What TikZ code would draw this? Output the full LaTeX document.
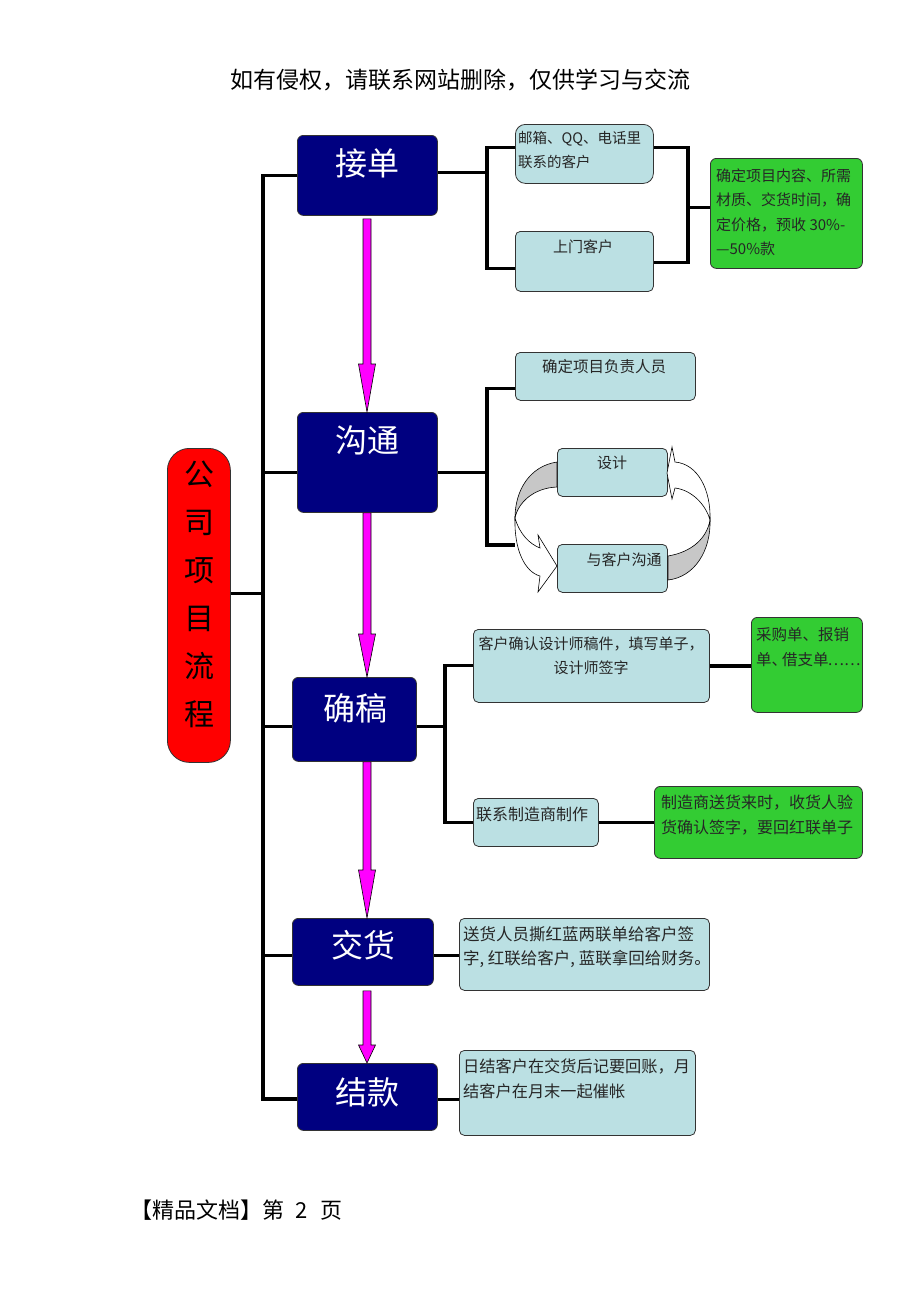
\documentclass[tikz,border=0pt]{standalone}
\usepackage{fontspec}
\setmainfont{Noto Sans CJK SC}
\usetikzlibrary{calc}
\definecolor{navyc}{HTML}{000080}
\definecolor{lblue}{HTML}{BBE0E3}
\definecolor{gboxc}{HTML}{33CC33}
\definecolor{magc}{HTML}{FF00FF}
\definecolor{redc}{HTML}{FF0000}
\newcommand\fs[1]{\fontsize{#1}{#1}\selectfont}
\newcommand\magarrow[4]{%
\filldraw[arrowfill] ($(#1.south -| ax)+(-4,#3)$) -- ($(#1.south -| ax)+(4,#3)$) -- ($(#2.north -| ax)+(4,-#4)$) -- ($(#2.north -| ax)+(8.5,-#4)$) -- (#2.north -| ax) -- ($(#2.north -| ax)+(-8.5,-#4)$) -- ($(#2.north -| ax)+(-4,-#4)$) -- cycle;}
\begin{document}
\begin{tikzpicture}[x=1pt,y=-1pt,
  conn/.style={line width=3.2pt, draw=black},
  bluebox/.style={draw=black!80, fill=navyc, rounded corners=6pt, line width=0.8pt, anchor=north west, inner sep=0pt},
  lbox/.style={draw=black!80, fill=lblue, rounded corners=5pt, line width=0.8pt, anchor=north west, inner sep=0pt},
  gbx/.style={draw=black!80, fill=gboxc, rounded corners=6pt, line width=0.8pt, anchor=north west, inner sep=0pt},
  btext/.style={text=white, font=\fs{32}, inner sep=0pt},
  ltext/.style={text=black!85, inner sep=0pt},
  arrowfill/.style={fill=magc, draw=black, line width=0.6pt},
  ribg/.style={fill=black!22, draw=black, line width=0.6pt},
  ribw/.style={fill=white, draw=black, line width=0.6pt}]
\useasboundingbox (0,0) rectangle (920,1302);

% header / footer
\node[inner sep=0pt] (hdr) at (460,80) {\fs{23}如有侵权，请联系网站删除，仅供学习与交流};
\node[inner sep=0pt, anchor=west] (ftr) at (130,1210) {\fs{22}【精品文档】第\hspace{11pt}2\hspace{13pt}页};

% coordinates for buses
\coordinate (tt) at (263,175);
\coordinate (tb) at (263,1099);
\coordinate (busA) at (487,0);
\coordinate (busB) at (445,0);
\coordinate (busC) at (688,0);
\coordinate (ax) at (367,0);
\coordinate (gend) at (515,545);

% main boxes
\node[bluebox, minimum width=140pt, minimum height=80pt] (jd) at (297,135) {};
\node[bluebox, minimum width=140pt, minimum height=100pt] (gt) at (297,412) {};
\node[bluebox, minimum width=124pt, minimum height=84pt] (qg) at (292,677) {};
\node[bluebox, minimum width=141pt, minimum height=67pt] (jh) at (292,918) {};
\node[bluebox, minimum width=140pt, minimum height=67pt] (jk) at (297,1063) {};
\node[draw=black!80, fill=redc, rounded corners=22pt, line width=0.8pt, anchor=north west, inner sep=0pt, minimum width=63pt, minimum height=314pt] (red) at (167,448) {};

% side boxes
\node[lbox, rounded corners=10pt, minimum width=138pt, minimum height=59pt] (mail) at (515,124) {};
\node[lbox, minimum width=138pt, minimum height=60pt] (door) at (515,231) {};
\node[gbx, minimum width=152pt, minimum height=110pt] (g1) at (710,158) {};
\node[lbox, minimum width=180pt, minimum height=48pt] (fz) at (515,352) {};
\node[lbox, minimum width=110pt, minimum height=48pt] (sj) at (557,448) {};
\node[lbox, minimum width=110pt, minimum height=48pt] (gtk) at (557,544) {};
\node[lbox, minimum width=236pt, minimum height=73pt] (qr) at (473,629) {};
\node[gbx, minimum width=111pt, minimum height=95pt] (cg) at (751,617) {};
\node[lbox, minimum width=125pt, minimum height=48pt] (lx) at (473,798) {};
\node[gbx, minimum width=208pt, minimum height=72pt] (zz) at (654,786) {};
\node[lbox, minimum width=250pt, minimum height=72pt] (sh) at (459,918) {};
\node[lbox, minimum width=236pt, minimum height=85pt] (rj) at (459,1050) {};

% texts
\node[btext] (jdt) at (367,163) {接单};
\node[btext] (gtt) at (367,440) {沟通};
\node[btext] (qgt) at (355,708) {确稿};
\node[btext] (jht) at (363,945) {交货};
\node[btext] (jkt) at (367,1092) {结款};
\node[inner sep=0pt, anchor=north, align=center, font=\fontsize{30}{48}\selectfont, text=black] (redt) at (199,461) {公\\司\\项\\目\\流\\程};

\node[ltext, anchor=north west, align=left, font=\fontsize{14.5}{23.5}\selectfont] (mailt) at (518,131.5) {邮箱、QQ、电话里\\联系的客户};
\node[ltext, font=\fs{15}] (doort) at (583,247) {上门客户};
\node[ltext, anchor=north west, align=left, font=\fontsize{15}{24.5}\selectfont] (g1t) at (716,168.5) {确定项目内容、所需\\材质、交货时间，确\\定价格，预收 30\%-\\—50\%款};
\node[ltext, font=\fs{15.5}] (fzt) at (604,367) {确定项目负责人员};
\node[ltext, font=\fs{15}] (sjt) at (612,463) {设计};
\node[ltext, font=\fs{15}] (gtkt) at (624,560) {与客户沟通};
\node[ltext, anchor=north, align=center, font=\fontsize{15}{24}\selectfont] (qrt) at (591,636.5) {客户确认设计师稿件，填写单子，\\设计师签字};
\node[ltext, anchor=north west, align=left, font=\fontsize{15.5}{25}\selectfont] (cgt) at (756,627.5) {采购单、报销\\单、\kern-5pt借支单\kern-1pt……};
\node[ltext, anchor=west, font=\fs{16}] (lxt) at (476,814) {联系制造商制作};
\node[ltext, anchor=north west, align=left, font=\fontsize{16}{25}\selectfont] (zzt) at (661,795) {制造商送货来时，收货人验\\货确认签字，要回红联单子};
\node[ltext, anchor=north west, align=left, font=\fontsize{16.5}{24}\selectfont] (sht) at (463,926.75) {送货人员撕红蓝两联单给客户签\\字, 红联给客户, 蓝联拿回给财务。};
\node[ltext, anchor=north west, align=left, font=\fontsize{16.2}{25}\selectfont] (rjt) at (463,1059) {日结客户在交货后记要回账，月\\结客户在月末一起催帐};

% trunk and branches
\draw[conn] (jd.west) -| (tb) -- (tb -| jk.west);
\draw[conn] ($(gt.west)+(0,10)$) coordinate (g0) -- (g0 -| tt);
\draw[conn] ($(qg.west)+(0,7)$) coordinate (q9) -- (q9 -| tt);
\draw[conn] ($(jh.west)+(0,3.5)$) coordinate (h9) -- (h9 -| tt);
\draw[conn] ($(red.east)+(0,-12)$) coordinate (r9) -- (r9 -| tt);

% 接单 right side
\draw[conn] ($(jd.east)+(0,-3)$) coordinate (j0) -- (j0 -| busA);
\draw[conn] ($(mail.west)+(0,-6.5)$) coordinate (m0) -- (m0 -| busA) |- ($(door.west)+(0,7)$);
\draw[conn] ($(mail.east)+(0,-6.5)$) coordinate (m1) -- (m1 -| busC) |- ($(door.east)+(0,1)$);
\draw[conn] ($(g1.west)+(0,-6)$) coordinate (g9) -- (g9 -| busC);

% 沟通 right side
\draw[conn] ($(gt.east)+(0,10)$) coordinate (g2) -- (g2 -| busA);
\draw[conn] ($(fz.west)+(0,12)$) coordinate (f0) -- (f0 -| busA) |- (gend);

% 确稿 right side
\draw[conn] ($(qg.east)+(0,7)$) coordinate (q0) -- (q0 -| busB);
\draw[conn] ($(qr.west)+(0,-0.5)$) coordinate (q1) -- (q1 -| busB) |- (lx.west);
\draw[conn] (qr.east) -- (qr.east -| cg.west);
\draw[conn] (lx.east) -- (lx.east -| zz.west);

% 交货, 结款
\draw[conn] ($(jh.east)+(0,3.5)$) coordinate (h0) -- (h0 -| sh.west);
\draw[conn] ($(jk.east)+(0,2.5)$) coordinate (k0) -- (k0 -| rj.west);

% magenta arrows
\magarrow{jd}{gt}{3}{48}
\magarrow{gt}{qg}{0}{43}
\magarrow{qg}{jh}{0}{48}
\magarrow{jh}{jk}{5}{18}

% circular ribbons
\filldraw[ribg] (557,462) .. controls (530,466) and (515,490) .. (515,518) .. controls (518,503) and (533,488) .. (557,487) -- cycle;
\filldraw[ribw] (515,518) .. controls (520,535) and (530,544) .. (540,548) -- (538,535) -- (557,566) -- (538,592) -- (540,576) .. controls (525,572) and (514,550) .. (515,518) -- cycle;
\filldraw[ribg] (668,556) .. controls (692,552) and (707,538) .. (710,520) .. controls (711,550) and (695,577) .. (668,580) -- cycle;
\filldraw[ribw] (710,520) .. controls (711,490) and (698,464) .. (675,462) -- (672,447) -- (667,473) -- (672,499) -- (675,488) .. controls (692,490) and (706,505) .. (710,520) -- cycle;
\end{tikzpicture}
\end{document}
